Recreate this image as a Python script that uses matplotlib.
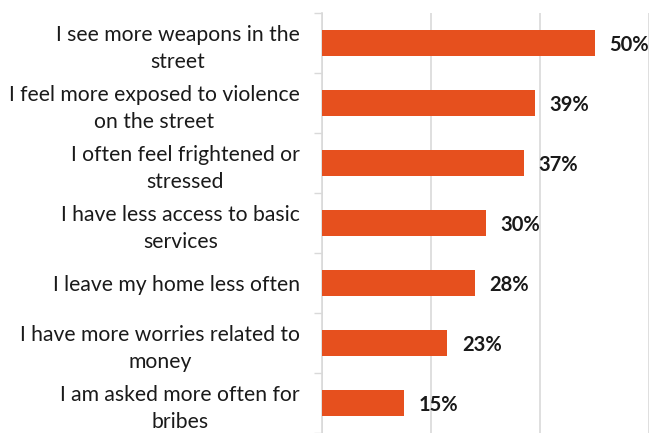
import matplotlib
matplotlib.use("Agg")
import matplotlib.pyplot as plt

plt.rcParams['font.family'] = ['Lato', 'DejaVu Sans']

labels = ["I see more weapons in the\nstreet",
          "I feel more exposed to violence\non the street",
          "I often feel frightened or\nstressed",
          "I have less access to basic\nservices",
          "I leave my home less often",
          "I have more worries related to\nmoney",
          "I am asked more often for\nbribes"]
values = [50, 39, 37, 30, 28, 23, 15]

bar_color = "#E6501E"
grid_color = "#D9D9D9"

fig = plt.figure(figsize=(6.5, 4.33), dpi=100)
ax = fig.add_axes([322 / 650, 0.0, 1 - 323 / 650, 0.97])

pos = list(range(len(values)))
ax.barh(pos, [v / 100 for v in values], height=0.44, color=bar_color, zorder=3)

for p, v in zip(pos, values):
    ax.text(v / 100 + 0.027, p + 0.03, f"{v}%", va="center", ha="left",
            fontsize=14.5, fontweight="bold", color="#1a1a1a")

ax.set_xlim(0, 0.6)
ax.set_ylim(len(values) - 0.5, -0.5)
ax.set_xticks([0, 0.2, 0.4, 0.6])
ax.set_xticklabels([])
ax.tick_params(axis="x", length=0)
ax.grid(axis="x", color=grid_color, linewidth=1.2, zorder=0)

# category boundaries as tick marks, labels centred between them
ax.set_yticks([p - 0.5 for p in pos] + [len(values) - 0.5])
ax.set_yticklabels([])
ax.tick_params(axis="y", length=6, width=1, color=grid_color)
ax.set_yticks(pos, minor=True)
ax.set_yticklabels(labels, minor=True, fontsize=15.2, ha="right",
                   multialignment="center", linespacing=1.45, color="#1a1a1a")
ax.tick_params(axis="y", which="minor", length=0, pad=16)

for s in ["top", "right", "bottom"]:
    ax.spines[s].set_visible(False)
ax.spines["left"].set_color(grid_color)
ax.spines["left"].set_linewidth(1.2)

fig.savefig("out.png", dpi=100)
